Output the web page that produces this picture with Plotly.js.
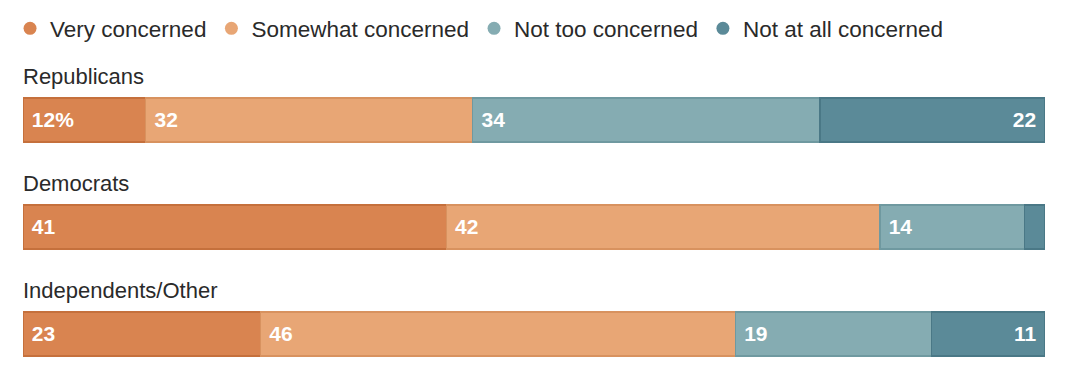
<!DOCTYPE html>
<html>
<head>
<meta charset="utf-8">
<script src="https://cdn.plot.ly/plotly-3.0.1.min.js"></script>
<style>html,body{margin:0;padding:0;background:#fff;}#chart{width:1080px;height:377px;}</style>
</head>
<body>
<div id="chart"></div>
<script>
const groups = ["Republicans", "Democrats", "Independents/Other"];
const seriesNames = ["Very concerned", "Somewhat concerned", "Not too concerned", "Not at all concerned"];
const veryConcerned = [12, 41, 23];
const somewhatConcerned = [32, 42, 46];
const notTooConcerned = [34, 14, 19];
const notAtAllConcerned = [22, 2, 11];
const veryLabels = ["12%", "41", "23"];
const somewhatLabels = ["32", "42", "46"];
const notTooLabels = ["34", "14", "19"];
const notAtAllLabels = ["22", "", "11"];

const fills = ["#D98450", "#E8A675", "#85ACB2", "#5B8A98"];
const edges = ["#C5703C", "#D8925F", "#6F99A0", "#4A7886"];
const NB = "\u00A0";

const values = [veryConcerned, somewhatConcerned, notTooConcerned, notAtAllConcerned];
const labels = [veryLabels, somewhatLabels, notTooLabels, notAtAllLabels];

const traces = [];
values.forEach((v, i) => {
  const last = i === values.length - 1;
  traces.push({
    type: "bar",
    orientation: "h",
    y: groups,
    x: v,
    name: seriesNames[i],
    showlegend: false,
    marker: {color: fills[i], line: {color: edges[i], width: 1.5}},
    text: labels[i].map(t => t === "" ? "" : (last ? t + NB : NB + t)),
    textposition: "inside",
    insidetextanchor: last ? "end" : "start",
    textfont: {family: "Liberation Sans, Arial, sans-serif", size: 21, color: "#ffffff", weight: "bold"},
    constraintext: "none",
    hoverinfo: "skip"
  });
});
seriesNames.forEach((n, i) => {
  traces.push({
    type: "scatter",
    mode: "markers",
    x: [null], y: [null],
    name: n,
    marker: {color: fills[i], size: 13, symbol: "circle"},
    showlegend: true,
    hoverinfo: "skip"
  });
});

const annotations = groups.map(g => ({
  xref: "paper", yref: "y",
  x: 0, y: g,
  xanchor: "left", yanchor: "middle",
  yshift: 43, xshift: -2,
  text: g, showarrow: false,
  font: {family: "Liberation Sans, Arial, sans-serif", size: 22, color: "#2a2a2a"}
}));

const layout = {
  width: 1080, height: 377,
  margin: {l: 23, r: 35, t: 60, b: 0, pad: 0},
  paper_bgcolor: "#ffffff",
  plot_bgcolor: "#ffffff",
  barmode: "stack",
  barnorm: "percent",
  bargap: 0.59,
  showlegend: true,
  legend: {
    orientation: "h",
    traceorder: "normal",
    xref: "container", yref: "container",
    x: 0.0093, y: 0.981, xanchor: "left", yanchor: "top",
    font: {family: "Liberation Sans, Arial, sans-serif", size: 22.5, color: "#2a2a2a"},
    itemclick: false, itemdoubleclick: false,
    tracegroupgap: 0
  },
  xaxis: {range: [0, 100], visible: false, fixedrange: true},
  yaxis: {type: "category", categoryorder: "array", categoryarray: groups,
          range: [2.403, -0.56], visible: false, fixedrange: true},
  annotations: annotations
};

Plotly.newPlot("chart", traces, layout, {displayModeBar: false, staticPlot: true});
</script>
</body>
</html>
